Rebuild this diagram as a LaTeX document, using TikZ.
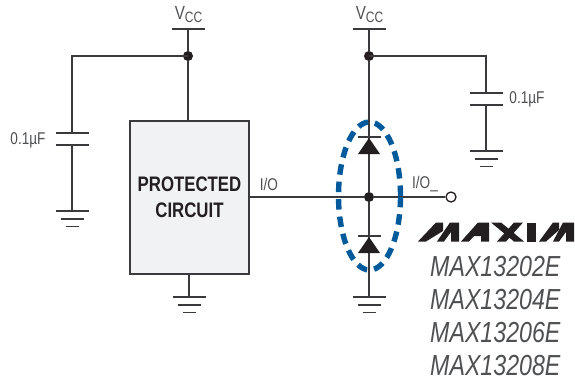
\documentclass[tikz,border=0pt]{standalone}
\usepackage{fontspec}
\usetikzlibrary{shapes.geometric}
\setmainfont{Liberation Sans}
\newfontfamily\lab[FakeStretch=0.80]{Liberation Sans}
\newfontfamily\labb[FakeStretch=0.80]{Liberation Sans Bold}
\newfontfamily\labi[FakeStretch=0.80]{Liberation Sans Italic}
\definecolor{wire}{HTML}{3A3A3C}
\definecolor{ink}{HTML}{231F20}
\definecolor{blu}{HTML}{005A9C}
\definecolor{boxfill}{HTML}{F1F2F4}
\definecolor{txt}{HTML}{4F5052}
\tikzset{
  wirex/.style={draw=wire,line width=1.3pt},
  jdot/.style={circle,fill=ink,inner sep=0pt,minimum size=10pt},
  lbl/.style={font=\lab\fontsize{17}{17}\selectfont,text=txt,inner sep=0pt},
  vlbl/.style={font=\lab\fontsize{19}{19}\selectfont,text=txt,inner sep=0pt},
  part/.style={font=\labi\fontsize{29}{29}\selectfont,text=txt,inner sep=0pt,anchor=west},
}
\newcommand{\gnd}[2]{%
  \draw[wirex] (#1-16.5,#2) -- (#1+16.5,#2);
  \draw[wirex] (#1-11.5,#2+8) -- (#1+11.5,#2+8);
  \draw[wirex] (#1-6.5,#2+15.5) -- (#1+6.5,#2+15.5);}
\newcommand{\capp}[2]{%
  \draw[wirex] (#1-16.5,#2) -- (#1+16.5,#2);
  \draw[wirex] (#1-16.5,#2+12) -- (#1+16.5,#2+12);}
\newcommand{\diode}[2]{%
  \draw[wirex] (#1-11.5,#2) -- (#1+11.5,#2);
  \fill[ink] (#1,#2+1) -- (#1+11,#2+17) -- (#1-11,#2+17) -- cycle;}
\begin{document}
\begin{tikzpicture}[x=1pt,y=-1pt]
\useasboundingbox[fill=white] (0,0) rectangle (575,381);
% nodes
\node[draw=wire,line width=1.3pt,fill=boxfill,minimum width=119pt,minimum height=153pt,inner sep=0pt,
  font=\labb\fontsize{21}{26}\selectfont,text=ink,align=center] (box) at (189.5,197.5) {PROTECTED\\CIRCUIT};
\node[jdot] (j1) at (188,56) {};
\node[jdot] (j2) at (369,56) {};
\node[jdot] (j3) at (369,197) {};
\node[circle,draw=ink,fill=white,line width=1.3pt,inner sep=0pt,minimum size=10pt] (io) at (451,197) {};
\coordinate (v1) at (188,29);
\coordinate (v2) at (369,29);
\coordinate (c1t) at (72,133);
\coordinate (c1b) at (72,145);
\coordinate (g1) at (72,211);
\coordinate (c1c) at (72,56);
\coordinate (c2c) at (486,56);
\coordinate (c2t) at (486,93);
\coordinate (c2b) at (486,105);
\coordinate (g2) at (486,151);
\coordinate (g3) at (189,297);
\coordinate (g4) at (369,297);
% wires
\draw[wirex] (j1.center) -- (c1c) -- (c1t);
\draw[wirex] (c1b) -- (g1);
\draw[wirex] (v1) -- (j1);
\draw[wirex] (j1) -- (box.north -| j1);
\draw[wirex] (box.south -| g3) -- (g3);
\draw[wirex] (box.east |- j3) -- (j3);
\draw[wirex] (j3) -- (io);
\draw[wirex] (v2) -- (j2);
\draw[wirex] (j2.center) -- (c2c) -- (c2t);
\draw[wirex] (c2b) -- (g2);
\draw[wirex] (j2) -- (j3);
\draw[wirex] (j3) -- (g4);
% bars
\draw[wirex] (172,29) -- (205,29);
\draw[wirex] (353,29) -- (386,29);
\capp{72}{133}
\capp{486}{93}
\gnd{72}{211}
\gnd{486}{151}
\gnd{189}{297}
\gnd{369}{297}
\diode{369}{137}
\diode{369}{236}
% ellipse
\node[draw=blu,dash pattern=on 10.5pt off 7pt,line width=5.4pt,ellipse,inner sep=0pt,minimum width=62pt,minimum height=148pt] (esd) at (369.5,196) {};
% labels
\node[vlbl] (vl1) at (188.5,15) {V\raisebox{-3pt}{\fontsize{15}{15}\selectfont CC}};
\node[vlbl] (vl2) at (369.5,15) {V\raisebox{-3pt}{\fontsize{15}{15}\selectfont CC}};
\node[lbl] (cl1) at (28,140) {0.1µF};
\node[lbl] (cl2) at (527,99) {0.1µF};
\node[lbl] (iol) at (269,184) {I/O};
\node[lbl] (iol2) at (425,184) {I/O\_};
\node[part] (p1) at (430,267) {MAX13202E};
\node[part] (p2) at (430,300) {MAX13204E};
\node[part] (p3) at (430,333) {MAX13206E};
\node[part] (p4) at (430,366) {MAX13208E};
% logo
\fill[ink] (418,241.5) -- (436,222.5) -- (443,222.5) -- (443,231) -- (426,241.5) -- cycle;
\fill[ink] (437,241.5) -- (450,222.5) -- (459,222.5) -- (459,241.5) -- (451,241.5) -- (451,232) -- (444,241.5) -- cycle;
\fill[ink] (461,241.5) -- (478,222.5) -- (489,222.5) -- (489,241.5) -- (481,241.5) -- (481,236) -- (474,236) -- (469,241.5) -- cycle;
\fill[ink] (491,222.5) -- (501,222.5) -- (524,241.5) -- (514,241.5) -- cycle;
\fill[ink] (497,241.5) -- (514,222.5) -- (523,222.5) -- (506,241.5) -- cycle;
\fill[ink] (527,222.5) -- (536,222.5) -- (536,241.5) -- (527,241.5) -- cycle;
\fill[ink] (539,241.5) -- (553,222.5) -- (559,222.5) -- (559,230) -- (546,241.5) -- cycle;
\fill[ink] (553,241.5) -- (563,222.5) -- (574,222.5) -- (574,241.5) -- (566,241.5) -- (566,232) -- (559,241.5) -- cycle;
\end{tikzpicture}
\end{document}
